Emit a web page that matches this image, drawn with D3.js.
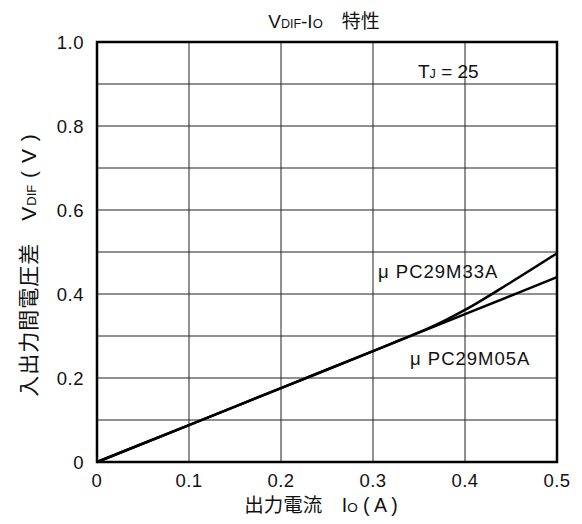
<!DOCTYPE html>
<html><head><meta charset="utf-8">
<script src="https://cdn.jsdelivr.net/npm/d3@7"></script>
<style>body{margin:0;background:#fff}text{font-family:"Liberation Sans",Arial,"Noto Sans CJK JP",sans-serif;fill:#111}</style>
</head><body><svg id="c" width="582" height="524"></svg>
<script>
const xTicks=[0,0.1,0.2,0.3,0.4,0.5];
const xTickLabels=["0","0.1","0.2","0.3","0.4","0.5"];
const yTicks=[0,0.2,0.4,0.6,0.8,1.0];
const yTickLabels=["0","0.2","0.4","0.6","0.8","1.0"];
const yGrid=[0.1,0.2,0.3,0.4,0.5,0.6,0.7,0.8,0.9];
const m33Current=[0,0.1,0.2,0.3,0.33,0.36,0.38,0.4,0.45,0.5];
const m33Vdif=[0,0.088,0.176,0.264,0.291,0.318,0.339,0.362,0.428,0.497];
const m05Current=[0,0.1,0.2,0.3,0.4,0.5];
const m05Vdif=[0,0.088,0.176,0.264,0.352,0.44];

const svg=d3.select("#c");
const L=97,R=557,T=42,B=462;
const x=d3.scaleLinear().domain([0,0.5]).range([L,R]);
const y=d3.scaleLinear().domain([0,1]).range([B,T]);

const g=svg.append("g");
g.selectAll(".vg").data(xTicks.slice(1,-1)).enter().append("line")
 .attr("x1",d=>x(d)).attr("x2",d=>x(d)).attr("y1",T).attr("y2",B).attr("stroke","#222").attr("stroke-width",1);
g.selectAll(".hg").data(yGrid).enter().append("line")
 .attr("y1",d=>y(d)).attr("y2",d=>y(d)).attr("x1",L).attr("x2",R).attr("stroke","#222").attr("stroke-width",1);

const line=d3.line().x(d=>x(d[0])).y(d=>y(d[1])).curve(d3.curveMonotoneX);
g.append("path").attr("d",line(m05Current.map((c,i)=>[c,m05Vdif[i]]))).attr("fill","none").attr("stroke","#000").attr("stroke-width",2.5);
g.append("path").attr("d",line(m33Current.map((c,i)=>[c,m33Vdif[i]]))).attr("fill","none").attr("stroke","#000").attr("stroke-width",2.5);

g.append("rect").attr("x",L).attr("y",T).attr("width",R-L).attr("height",B-T).attr("fill","none").attr("stroke","#000").attr("stroke-width",2.5);

g.selectAll(".xt").data(xTicks).enter().append("text").attr("x",d=>x(d)).attr("y",487).attr("text-anchor","middle").attr("font-size",18.5).attr("letter-spacing",0.5).text((d,i)=>xTickLabels[i]);
g.selectAll(".yt").data(yTicks).enter().append("text").attr("x",84).attr("y",d=>y(d)+6.5).attr("text-anchor","end").attr("font-size",18.5).attr("letter-spacing",0.5).text((d,i)=>yTickLabels[i]);

const t=svg.append("text").attr("x",324).attr("y",28).attr("text-anchor","middle").attr("font-size",19);
t.append("tspan").text("V");
t.append("tspan").attr("font-size",12.5).text("DIF");
t.append("tspan").text("-I");
t.append("tspan").attr("font-size",13).text("O");
t.append("tspan").text("\u3000特性");

const tj=svg.append("text").attr("x",418).attr("y",78).attr("font-size",19);
tj.append("tspan").text("T");
tj.append("tspan").attr("font-size",12.5).text("J");
tj.append("tspan").text(" = 25");

svg.append("text").attr("x",378).attr("y",278).attr("font-size",18.5).attr("letter-spacing",1).text("μ PC29M33A");
svg.append("text").attr("x",410).attr("y",365).attr("font-size",18.5).attr("letter-spacing",1).text("μ PC29M05A");

const xl=svg.append("text").attr("x",321).attr("y",512).attr("text-anchor","middle").attr("font-size",19.5);
xl.append("tspan").text("出力電流\u3000I");
xl.append("tspan").attr("font-size",13.5).text("O");
xl.append("tspan").text(" ( A )");

const yl=svg.append("text").attr("transform","translate(36,265) rotate(-90)").attr("text-anchor","middle").attr("font-size",21);
yl.append("tspan").attr("letter-spacing",1).text("入出力間電圧差\u3000V");
yl.append("tspan").attr("font-size",13).text("DIF");
yl.append("tspan").attr("letter-spacing",1).text(" ( V )");
</script></body></html>
